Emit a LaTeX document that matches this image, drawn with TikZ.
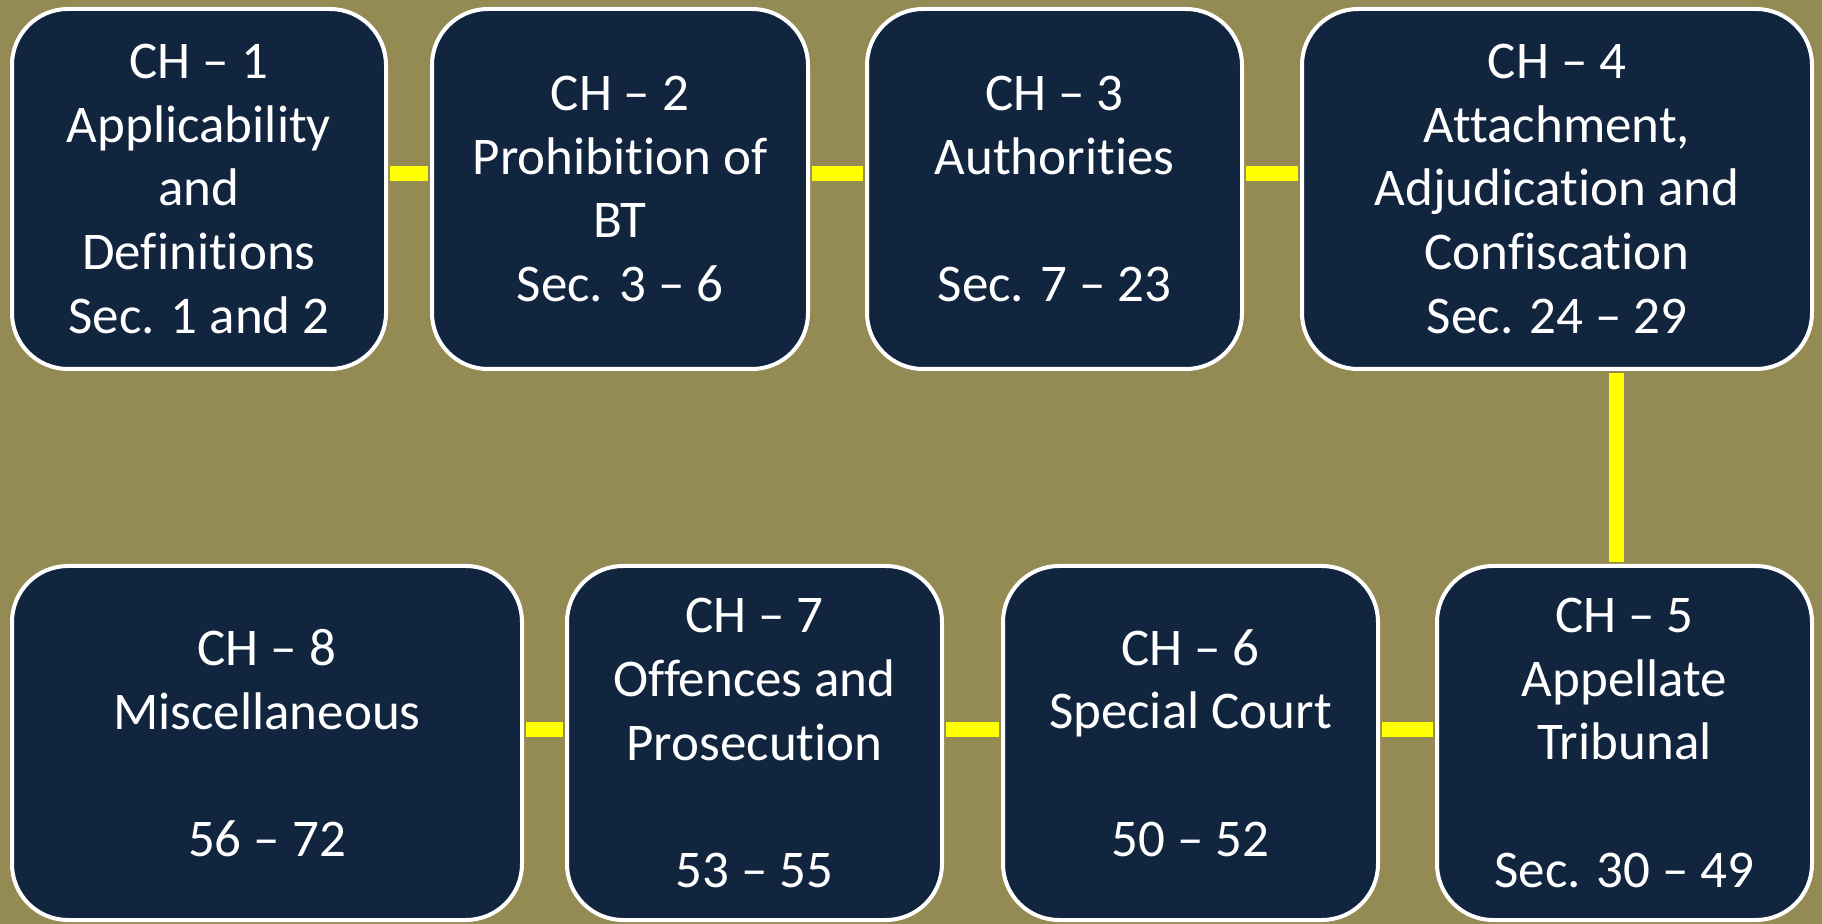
\documentclass[tikz,border=0pt]{standalone}
\usepackage{fontspec}
\setmainfont{Carlito}[Ligatures={TeX,NoCommon}]
\usepackage{xcolor}
\definecolor{olivebg}{HTML}{948A54}
\definecolor{navybox}{HTML}{12253F}
\definecolor{linkyellow}{HTML}{FFFF00}

\begin{document}
\begin{tikzpicture}[x=0.5pt, y=-0.5pt,
  chapter/.style={rectangle, rounded corners=28pt, draw=white, line width=2pt, fill=navybox, text=white,
    align=center, inner sep=0pt, font=\fontsize{26.5}{31.8}\selectfont},
  toprow/.style={chapter, minimum height=180pt},
  botrow/.style={chapter, minimum height=177pt},
  link/.style={draw=linkyellow, line width=7.5pt, shorten <=1pt, shorten >=1pt}]
\fill[olivebg] (0,0) rectangle (1822,924);

% first row
\node[toprow, minimum width=187pt] (ch1) at (199,189) {CH -- 1\\Applicability\\and\\Definitions\\Sec. 1 and 2};
\node[toprow, minimum width=188pt] (ch2) at (620,189) {CH -- 2\\Prohibition of\\BT\\Sec. 3 -- 6};
\node[toprow, minimum width=187.5pt] (ch3) at (1054.5,189) {CH -- 3\\Authorities\\~\\Sec. 7 -- 23};
\node[toprow, minimum width=255pt] (ch4) at (1557,189) {CH -- 4\\Attachment,\\Adjudication and\\Confiscation\\Sec. 24 -- 29};

% second row
\node[botrow, minimum width=255pt] (ch8) at (267,743) {CH -- 8\\Miscellaneous\\~\\56 -- 72};
\node[botrow, minimum width=187.5pt] (ch7) at (754.5,743) {CH -- 7\\Offences and\\Prosecution\\~\\53 -- 55};
\node[botrow, minimum width=187.5pt] (ch6) at (1190.5,743) {CH -- 6\\Special Court\\~\\50 -- 52};
\node[botrow, minimum width=187.5pt] (ch5) at (1624.5,743) {CH -- 5\\Appellate\\Tribunal\\~\\Sec. 30 -- 49};

\coordinate (toplink) at (0,174);
\coordinate (botlink) at (0,730);
\coordinate (downlink) at (1616,0);

\draw[link] (ch1.east |- toplink) -- (ch2.west |- toplink);
\draw[link] (ch2.east |- toplink) -- (ch3.west |- toplink);
\draw[link] (ch3.east |- toplink) -- (ch4.west |- toplink);
\draw[link] (ch4.south -| downlink) -- (ch5.north -| downlink);
\draw[link] (ch5.west |- botlink) -- (ch6.east |- botlink);
\draw[link] (ch6.west |- botlink) -- (ch7.east |- botlink);
\draw[link] (ch7.west |- botlink) -- (ch8.east |- botlink);
\end{tikzpicture}
\end{document}
